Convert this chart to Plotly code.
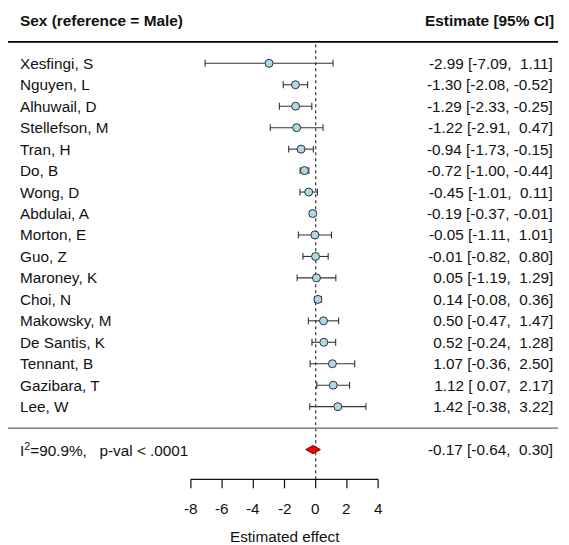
import plotly.graph_objects as go

# ---------------- data ----------------
studies = ["Xesfingi, S", "Nguyen, L", "Alhuwail, D", "Stellefson, M", "Tran, H",
           "Do, B", "Wong, D", "Abdulai, A", "Morton, E", "Guo, Z", "Maroney, K",
           "Choi, N", "Makowsky, M", "De Santis, K", "Tennant, B", "Gazibara, T", "Lee, W"]
estimate = [-2.99, -1.30, -1.29, -1.22, -0.94, -0.72, -0.45, -0.19, -0.05, -0.01,
            0.05, 0.14, 0.50, 0.52, 1.07, 1.12, 1.42]
ci_lower = [-7.09, -2.08, -2.33, -2.91, -1.73, -1.00, -1.01, -0.37, -1.11, -0.82,
            -1.19, -0.08, -0.47, -0.24, -0.36, 0.07, -0.38]
ci_upper = [1.11, -0.52, -0.25, 0.47, -0.15, -0.44, 0.11, -0.01, 1.01, 0.80,
            1.29, 0.36, 1.47, 1.28, 2.50, 2.17, 3.22]
summary_est = -0.17
summary_lower = -0.64
summary_upper = 0.30
summary_label = "I<sup>2</sup>=90.9%,\u00a0\u00a0 p-val < .0001"
tick_vals = [-8, -6, -4, -2, 0, 2, 4]
header_left = "Sex (reference = Male)"
header_right = "Estimate [95% CI]"
x_title = "Estimated effect"

# ---------------- geometry ----------------
W, H = 569, 545
PX_PER_X = 15.6
X_ZERO_PX = 315.7
x_min = -X_ZERO_PX / PX_PER_X
x_max = x_min + W / PX_PER_X

ROW_PX = 21.46
FIRST_ROW_PX = 63.3
k = len(studies)
y_max = k + FIRST_ROW_PX / ROW_PX
y_min = y_max - H / ROW_PX

rows = list(range(k, 0, -1))          # study rows, top to bottom
summary_row = -1
axis_y = -2.385
tick_len = 0.42
cap_h = 0.16
diamond_h = 0.19

FONT = "Liberation Sans, Arial, sans-serif"
TXT = "#111111"
FS = 15.3
FS_HEAD = 15.4


def fmt(v):
    return f"{v:5.2f}".replace(" ", "\u00a0")


fig = go.Figure()

# reference (null) line
fig.add_trace(go.Scatter(x=[0, 0], y=[axis_y, k + 1], mode="lines",
                         line=dict(color="#333333", width=1.2, dash="dot"),
                         hoverinfo="skip", showlegend=False))

# confidence interval lines and caps
ci_x, ci_y = [], []
for r, lo, hi in zip(rows, ci_lower, ci_upper):
    ci_x += [lo, hi, None]
    ci_y += [r, r, None]
    ci_x += [lo, lo, None, hi, hi, None]
    ci_y += [r - cap_h, r + cap_h, None, r - cap_h, r + cap_h, None]
fig.add_trace(go.Scatter(x=ci_x, y=ci_y, mode="lines",
                         line=dict(color="#333333", width=1.1),
                         hoverinfo="skip", showlegend=False))

# point estimates
fig.add_trace(go.Scatter(x=estimate, y=rows, mode="markers",
                         marker=dict(symbol="circle", size=8, color="#add8e6",
                                     line=dict(color="#333333", width=1)),
                         hoverinfo="skip", showlegend=False))

# summary diamond
fig.add_trace(go.Scatter(
    x=[summary_lower, summary_est, summary_upper, summary_est, summary_lower],
    y=[summary_row, summary_row + diamond_h, summary_row, summary_row - diamond_h, summary_row],
    mode="lines", fill="toself", fillcolor="#ff0000",
    line=dict(color="#660000", width=1),
    hoverinfo="skip", showlegend=False))

# x axis (drawn in the style of base R)
ax_x, ax_y = [tick_vals[0], tick_vals[-1], None], [axis_y, axis_y, None]
for t in tick_vals:
    ax_x += [t, t, None]
    ax_y += [axis_y, axis_y - tick_len, None]
fig.add_trace(go.Scatter(x=ax_x, y=ax_y, mode="lines",
                         line=dict(color="#111111", width=1.2),
                         hoverinfo="skip", showlegend=False))

annotations = []
# headers
annotations.append(dict(x=18 / W, xref="paper", y=k + 2, yref="y", text="<b>" + header_left + "</b>",
                        xanchor="left", yanchor="middle", showarrow=False,
                        font=dict(family=FONT, size=FS_HEAD, color=TXT)))
annotations.append(dict(x=556 / W, xref="paper", y=k + 2, yref="y", text="<b>" + header_right + "</b>",
                        xanchor="right", yanchor="middle", showarrow=False,
                        font=dict(family=FONT, size=FS_HEAD, color=TXT)))
# study labels and estimates
for r, name, e, lo, hi in zip(rows, studies, estimate, ci_lower, ci_upper):
    annotations.append(dict(x=18 / W, xref="paper", y=r, yref="y", text=name,
                            xanchor="left", yanchor="middle", showarrow=False,
                            font=dict(family=FONT, size=FS, color=TXT)))
    annotations.append(dict(x=555 / W, xref="paper", y=r, yref="y",
                            text=f"{fmt(e)} [{fmt(lo)}, {fmt(hi)}]",
                            xanchor="right", yanchor="middle", showarrow=False,
                            font=dict(family=FONT, size=FS, color=TXT)))
# summary row text
annotations.append(dict(x=18 / W, xref="paper", y=summary_row, yref="y", text=summary_label,
                        xanchor="left", yanchor="middle", showarrow=False,
                        font=dict(family=FONT, size=FS, color=TXT)))
annotations.append(dict(x=555 / W, xref="paper", y=summary_row, yref="y",
                        text=f"{fmt(summary_est)} [{fmt(summary_lower)}, {fmt(summary_upper)}]",
                        xanchor="right", yanchor="middle", showarrow=False,
                        font=dict(family=FONT, size=FS, color=TXT)))
# tick labels
for t in tick_vals:
    annotations.append(dict(x=t, xref="x", y=-3.74, yref="y", text=str(t),
                            xanchor="center", yanchor="middle", showarrow=False,
                            font=dict(family=FONT, size=FS, color=TXT)))
annotations.append(dict(x=(tick_vals[0] + tick_vals[-1]) / 2, xref="x", y=-5.06, yref="y",
                        text=x_title, xanchor="center", yanchor="middle", showarrow=False,
                        font=dict(family=FONT, size=FS, color=TXT)))

shapes = [
    dict(type="line", xref="paper", yref="y", x0=8 / W, x1=558 / W, y0=k + 1, y1=k + 1,
         line=dict(color="#000000", width=1.6)),
    dict(type="line", xref="paper", yref="y", x0=8 / W, x1=558 / W, y0=0, y1=0,
         line=dict(color="#666666", width=1.4)),
]

fig.update_layout(
    width=W, height=H,
    margin=dict(l=0, r=0, t=0, b=0),
    paper_bgcolor="white", plot_bgcolor="white",
    xaxis=dict(range=[x_min, x_max], visible=False, fixedrange=True),
    yaxis=dict(range=[y_min, y_max], visible=False, fixedrange=True),
    annotations=annotations,
    shapes=shapes,
    showlegend=False,
)

fig.write_html("out.html")
